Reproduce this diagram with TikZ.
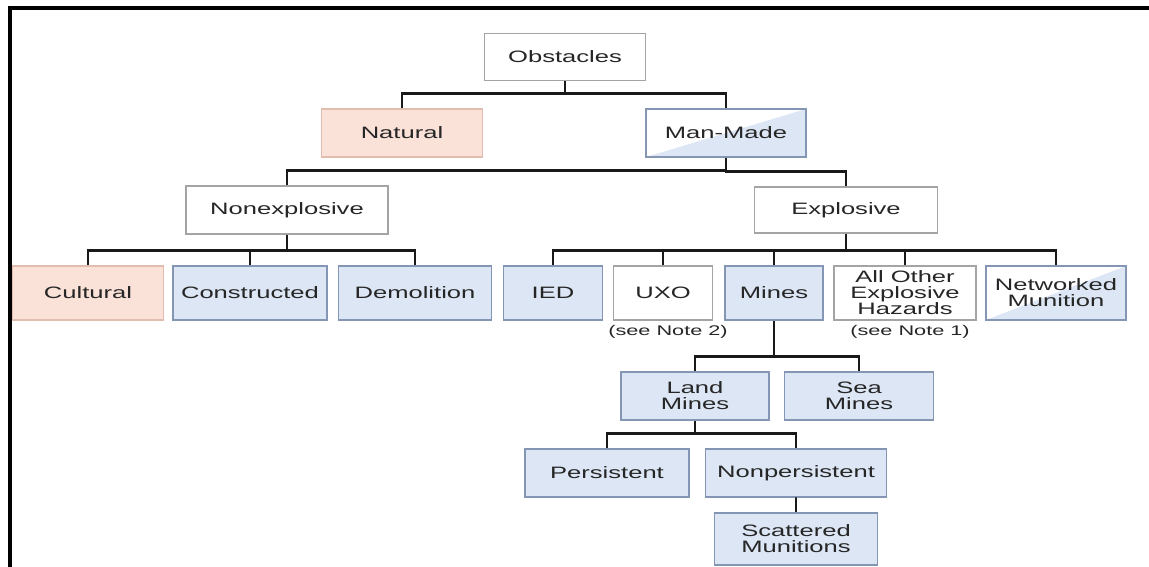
\documentclass[tikz,border=0pt]{standalone}
\usepackage{fontspec}
\setmainfont{Liberation Sans}[FakeStretch=1.55]

\definecolor{bluefill}{HTML}{DCE6F4}
\definecolor{blueline}{HTML}{8496B4}
\definecolor{pinkfill}{HTML}{FBE2D8}
\definecolor{pinkline}{HTML}{E2BCAE}
\definecolor{greyline}{HTML}{A4A4A4}
\definecolor{inkgrey}{HTML}{262626}

\tikzstyle{plainbox}=[rectangle, draw=greyline, fill=white, line width=1.4pt, minimum height=48pt, inner sep=0pt, align=center, text=inkgrey, font=\fontsize{16.5}{16}\selectfont]
\tikzstyle{bluebox}=[plainbox, draw=blueline, fill=bluefill]
\tikzstyle{pinkbox}=[plainbox, draw=pinkline, fill=pinkfill]
\tikzstyle{halfbox}=[plainbox, draw=blueline, path picture={\fill[bluefill] (path picture bounding box.south west) -- (path picture bounding box.south east) -- (path picture bounding box.north east) -- cycle;}]
\tikzstyle{note}=[inner sep=0pt, text=inkgrey, font=\fontsize{14}{14}\selectfont]
\tikzstyle{tree}=[draw=black!90, line width=2.6pt, to path={(\tikztostart.north) -- ++(0,-15) -| (\tikztotarget.south)}]

\begin{document}
\begin{tikzpicture}[x=1pt, y=-1pt]
    \useasboundingbox (0,0) rectangle (1149,567);
    \draw[line width=3.5pt] (10,567) -- (10,8) -- (1149,8);

    \node[plainbox, minimum width=161pt, minimum height=47pt] (obstacles) at (565,57) {Obstacles};

    \node[pinkbox, minimum width=161pt] (natural) at (402,133) {Natural}
    edge[tree] (obstacles);

    \node[halfbox, minimum width=160pt] (manmade) at (726,133) {Man-Made}
    edge[tree] (obstacles);

    \node[plainbox, minimum width=202pt] (nonexplosive) at (287,210) {Nonexplosive}
    edge[tree] (manmade);

    \node[plainbox, minimum width=183pt, minimum height=46pt] (explosive) at (846,210) {Explosive}
    edge[tree] (manmade);

    \node[pinkbox, minimum width=151pt, minimum height=54pt] (cultural) at (88,293) {Cultural}
    edge[tree] (nonexplosive);

    \node[bluebox, minimum width=154pt, minimum height=54pt] (constructed) at (250,293) {Constructed}
    edge[tree] (nonexplosive);

    \node[bluebox, minimum width=153pt, minimum height=54pt] (demolition) at (415,293) {Demolition}
    edge[tree] (nonexplosive);

    \node[bluebox, minimum width=99pt, minimum height=54pt] (ied) at (553,293) {IED}
    edge[tree] (explosive);

    \node[plainbox, minimum width=99pt, minimum height=54pt] (uxo) at (663,293) {UXO}
    edge[tree] (explosive);

    \node[bluebox, minimum width=98pt, minimum height=54pt] (mines) at (774,293) {Mines}
    edge[tree] (explosive);

    \node[plainbox, minimum width=142pt, minimum height=54pt] (otherhazards) at (905,293) {All Other\\Explosive\\Hazards}
    edge[tree] (explosive);

    \node[halfbox, minimum width=140pt, minimum height=54pt] (networked) at (1056,293) {Networked\\Munition}
    edge[tree] (explosive);

    \node[note] (note2) at (668,332) {(see Note 2)};
    \node[note] (note1) at (910,332) {(see Note 1)};

    \node[bluebox, minimum width=148pt] (landmines) at (695,396) {Land\\Mines}
    edge[tree] (mines);

    \node[bluebox, minimum width=149pt] (seamines) at (859,396) {Sea\\Mines}
    edge[tree] (mines);

    \node[bluebox, minimum width=164pt] (persistent) at (607,473) {Persistent}
    edge[tree] (landmines);

    \node[bluebox, minimum width=181pt] (nonpersistent) at (796,473) {Nonpersistent}
    edge[tree] (landmines);

    \node[bluebox, minimum width=163pt, minimum height=52pt] (scattered) at (796,539) {Scattered\\Munitions}
    edge[tree] (nonpersistent);
\end{tikzpicture}
\end{document}
